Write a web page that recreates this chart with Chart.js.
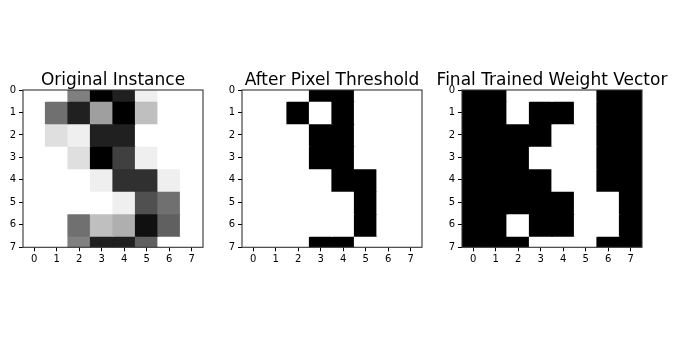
<!DOCTYPE html>
<html>
<head>
<meta charset="utf-8">
<script src="https://cdn.jsdelivr.net/npm/chart.js@4"></script>
<style>
  html, body { margin: 0; padding: 0; background: #fff; }
  body { width: 681px; height: 338px; position: relative; overflow: hidden; }
  canvas { position: absolute; top: 0; }
</style>
</head>
<body>
<canvas id="origChart" width="240" height="338" style="left:-7px"></canvas>
<canvas id="threshChart" width="240" height="338" style="left:212px"></canvas>
<canvas id="weightChart" width="240" height="338" style="left:432px"></canvas>
<script>
// column tick labels (0..7)
const colLabels = ['0', '1', '2', '3', '4', '5', '6', '7'];

// original 8x8 digit, pixel intensities 0..16
const originalInstance = [
  [0, 0, 8, 16, 14, 1, 0, 0],
  [0, 9, 14, 6, 16, 4, 0, 0],
  [0, 2, 1, 14, 14, 0, 0, 0],
  [0, 0, 2, 16, 12, 1, 0, 0],
  [0, 0, 0, 1, 13, 13, 1, 0],
  [0, 0, 0, 0, 1, 11, 9, 0],
  [0, 0, 9, 4, 5, 15, 10, 0],
  [0, 0, 8, 14, 14, 10, 0, 0]
];

// after thresholding (0/1)
const thresholded = [
  [0, 0, 0, 1, 1, 0, 0, 0],
  [0, 0, 1, 0, 1, 0, 0, 0],
  [0, 0, 0, 1, 1, 0, 0, 0],
  [0, 0, 0, 1, 1, 0, 0, 0],
  [0, 0, 0, 0, 1, 1, 0, 0],
  [0, 0, 0, 0, 0, 1, 0, 0],
  [0, 0, 0, 0, 0, 1, 0, 0],
  [0, 0, 0, 1, 1, 0, 0, 0]
];

// final trained weights (0/1)
const weightVector = [
  [1, 1, 0, 0, 0, 0, 1, 1],
  [1, 1, 0, 1, 1, 0, 1, 1],
  [1, 1, 1, 1, 0, 0, 1, 1],
  [1, 1, 1, 0, 0, 0, 1, 1],
  [1, 1, 1, 1, 0, 0, 1, 1],
  [1, 1, 1, 1, 1, 0, 0, 1],
  [1, 1, 0, 1, 1, 0, 0, 1],
  [1, 1, 1, 0, 0, 0, 1, 1]
];

Chart.defaults.font.family = "'DejaVu Sans', sans-serif";
Chart.defaults.color = '#000';

// gray_r colormap: 0 -> white, vmax -> black
function grayR(v, vmax) {
  const g = Math.round(255 * (1 - v / vmax));
  return 'rgb(' + g + ',' + g + ',' + g + ')';
}

// one floating-bar dataset per image row
function rowDatasets(grid, vmax) {
  return grid.map((row, r) => ({
    data: row.map(() => [r - 0.5, r + 0.5]),
    backgroundColor: row.map(v => grayR(v, vmax)),
    borderWidth: 0,
    inflateAmount: 0.6,
    barPercentage: 1,
    categoryPercentage: 1,
    grouped: false,
    yAxisID: 'y',
    clip: 0
  }));
}

// frame round the plot area
const framePlugin = {
  id: 'frame',
  afterDatasetsDraw(chart) {
    const a = chart.chartArea;
    const ctx = chart.ctx;
    ctx.save();
    ctx.strokeStyle = '#333';
    ctx.lineWidth = 1.1;
    ctx.strokeRect(a.left, a.top, a.right - a.left, a.bottom - a.top);
    ctx.restore();
  }
};

function initImageChart(elementId, title, grid, vmax) {
  const ctx = document.getElementById(elementId);
  return new Chart(ctx, {
    type: 'bar',
    data: { labels: colLabels, datasets: rowDatasets(grid, vmax) },
    options: {
      responsive: false,
      animation: false,
      layout: { padding: 0 },
      plugins: {
        legend: { display: false },
        tooltip: { enabled: false },
        title: {
          display: true,
          text: title,
          color: '#000',
          font: { size: 17, weight: 'normal', lineHeight: 1 },
          padding: { top: 72.5, bottom: 0.5 }
        }
      },
      scales: {
        x: {
          type: 'category',
          offset: true,
          border: { display: false },
          grid: { offset: false, drawOnChartArea: false, drawTicks: true, tickLength: 4, tickColor: '#000' },
          ticks: { font: { size: 10 }, padding: 2, maxRotation: 0, autoSkip: false },
          afterFit(scale) { scale.height = 90.7; }
        },
        y: {
          type: 'linear',
          position: 'left',
          reverse: true,
          min: 0,
          max: 7,
          border: { display: false },
          grid: { drawOnChartArea: false, drawTicks: true, tickLength: 4, tickColor: '#000' },
          ticks: { stepSize: 1, font: { size: 10 }, padding: 3 },
          afterFit(scale) { scale.width = 30; }
        },
        // empty right-hand axis keeps the plot centred under the title
        yRight: {
          type: 'linear',
          position: 'right',
          min: 0,
          max: 7,
          border: { display: false },
          grid: { display: false },
          ticks: { display: false },
          afterFit(scale) { scale.width = 30; }
        }
      }
    },
    plugins: [framePlugin]
  });
}

initImageChart('origChart', 'Original Instance', originalInstance, 16);
initImageChart('threshChart', 'After Pixel Threshold', thresholded, 1);
initImageChart('weightChart', 'Final Trained Weight Vector', weightVector, 1);
</script>
</body>
</html>
